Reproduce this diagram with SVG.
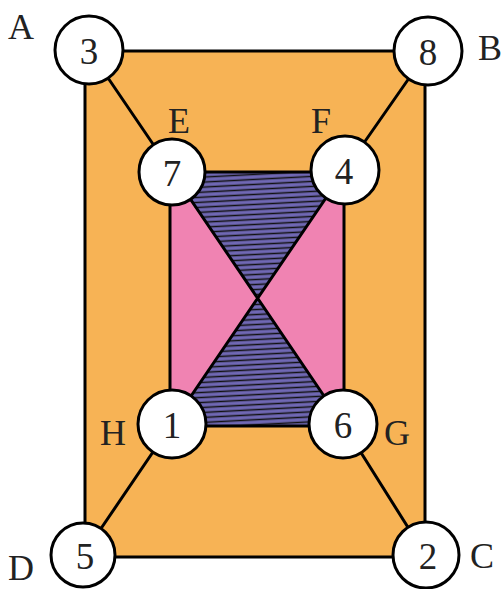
<svg xmlns="http://www.w3.org/2000/svg" width="503" height="589" viewBox="0 0 503 589">
<defs>
<pattern id="hatch" patternUnits="userSpaceOnUse" width="40" height="5" patternTransform="rotate(-3)">
<rect width="40" height="5" fill="#7068b4"/>
<path d="M0 2.5 L40 2.5" stroke="#111" stroke-width="1.6"/>
</pattern>
<style>
.edge{stroke:#000;stroke-width:3;fill:none;stroke-linecap:round}
.node circle{fill:#fff;stroke:#000;stroke-width:3}
.num{font-family:"Liberation Serif",serif;font-size:37px;fill:#222;text-anchor:middle}
.lbl{font-family:"Liberation Serif",serif;font-size:36px;fill:#222;text-anchor:middle}
</style>
</defs>
<rect width="503" height="589" fill="#fff"/>
<g id="regions">
<polygon points="85,51 425,51 425,557 85,557" fill="#f7b355" stroke="#000" stroke-width="3"/>
<polygon points="170,172 344,172 257,298" fill="url(#hatch)"/>
<polygon points="170,426 344,426 257,298" fill="url(#hatch)"/>
<polygon points="170,172 170,426 257,298" fill="#f083b2"/>
<polygon points="344,172 344,426 257,298" fill="#f083b2"/>
</g>
<g id="connectors">
<path class="edge" d="M170 172 L344 172 L344 426 L170 426 Z"/>
<path class="edge" d="M172 172 L343 424 M345 170 L172 424"/>
<path class="edge" d="M89 50 L172 172"/>
<path class="edge" d="M428 51 L345 170"/>
<path class="edge" d="M172 424 L83 555"/>
<path class="edge" d="M343 424 L426 556"/>
</g>
<g id="n3" class="node"><circle cx="89" cy="50" r="34"/><text class="num" x="89" y="64">3</text></g>
<g id="n8" class="node"><circle cx="428" cy="51" r="34"/><text class="num" x="428" y="65">8</text></g>
<g id="n7" class="node"><circle cx="172" cy="172" r="33"/><text class="num" x="172" y="186">7</text></g>
<g id="n4" class="node"><circle cx="345" cy="170" r="34"/><text class="num" x="344" y="184">4</text></g>
<g id="n1" class="node"><circle cx="172" cy="424" r="34"/><text class="num" x="172" y="438">1</text></g>
<g id="n6" class="node"><circle cx="343" cy="424" r="34"/><text class="num" x="343" y="438">6</text></g>
<g id="n5" class="node"><circle cx="83" cy="555" r="32"/><text class="num" x="85" y="569">5</text></g>
<g id="n2" class="node"><circle cx="426" cy="555" r="33"/><text class="num" x="428" y="569">2</text></g>
<g id="labels">
<text class="lbl" x="21" y="39">A</text>
<text class="lbl" x="490" y="60">B</text>
<text class="lbl" x="179" y="133">E</text>
<text class="lbl" x="321" y="133">F</text>
<text class="lbl" x="113" y="445">H</text>
<text class="lbl" x="397" y="445">G</text>
<text class="lbl" x="21" y="580">D</text>
<text class="lbl" x="482" y="568">C</text>
</g>
</svg>
